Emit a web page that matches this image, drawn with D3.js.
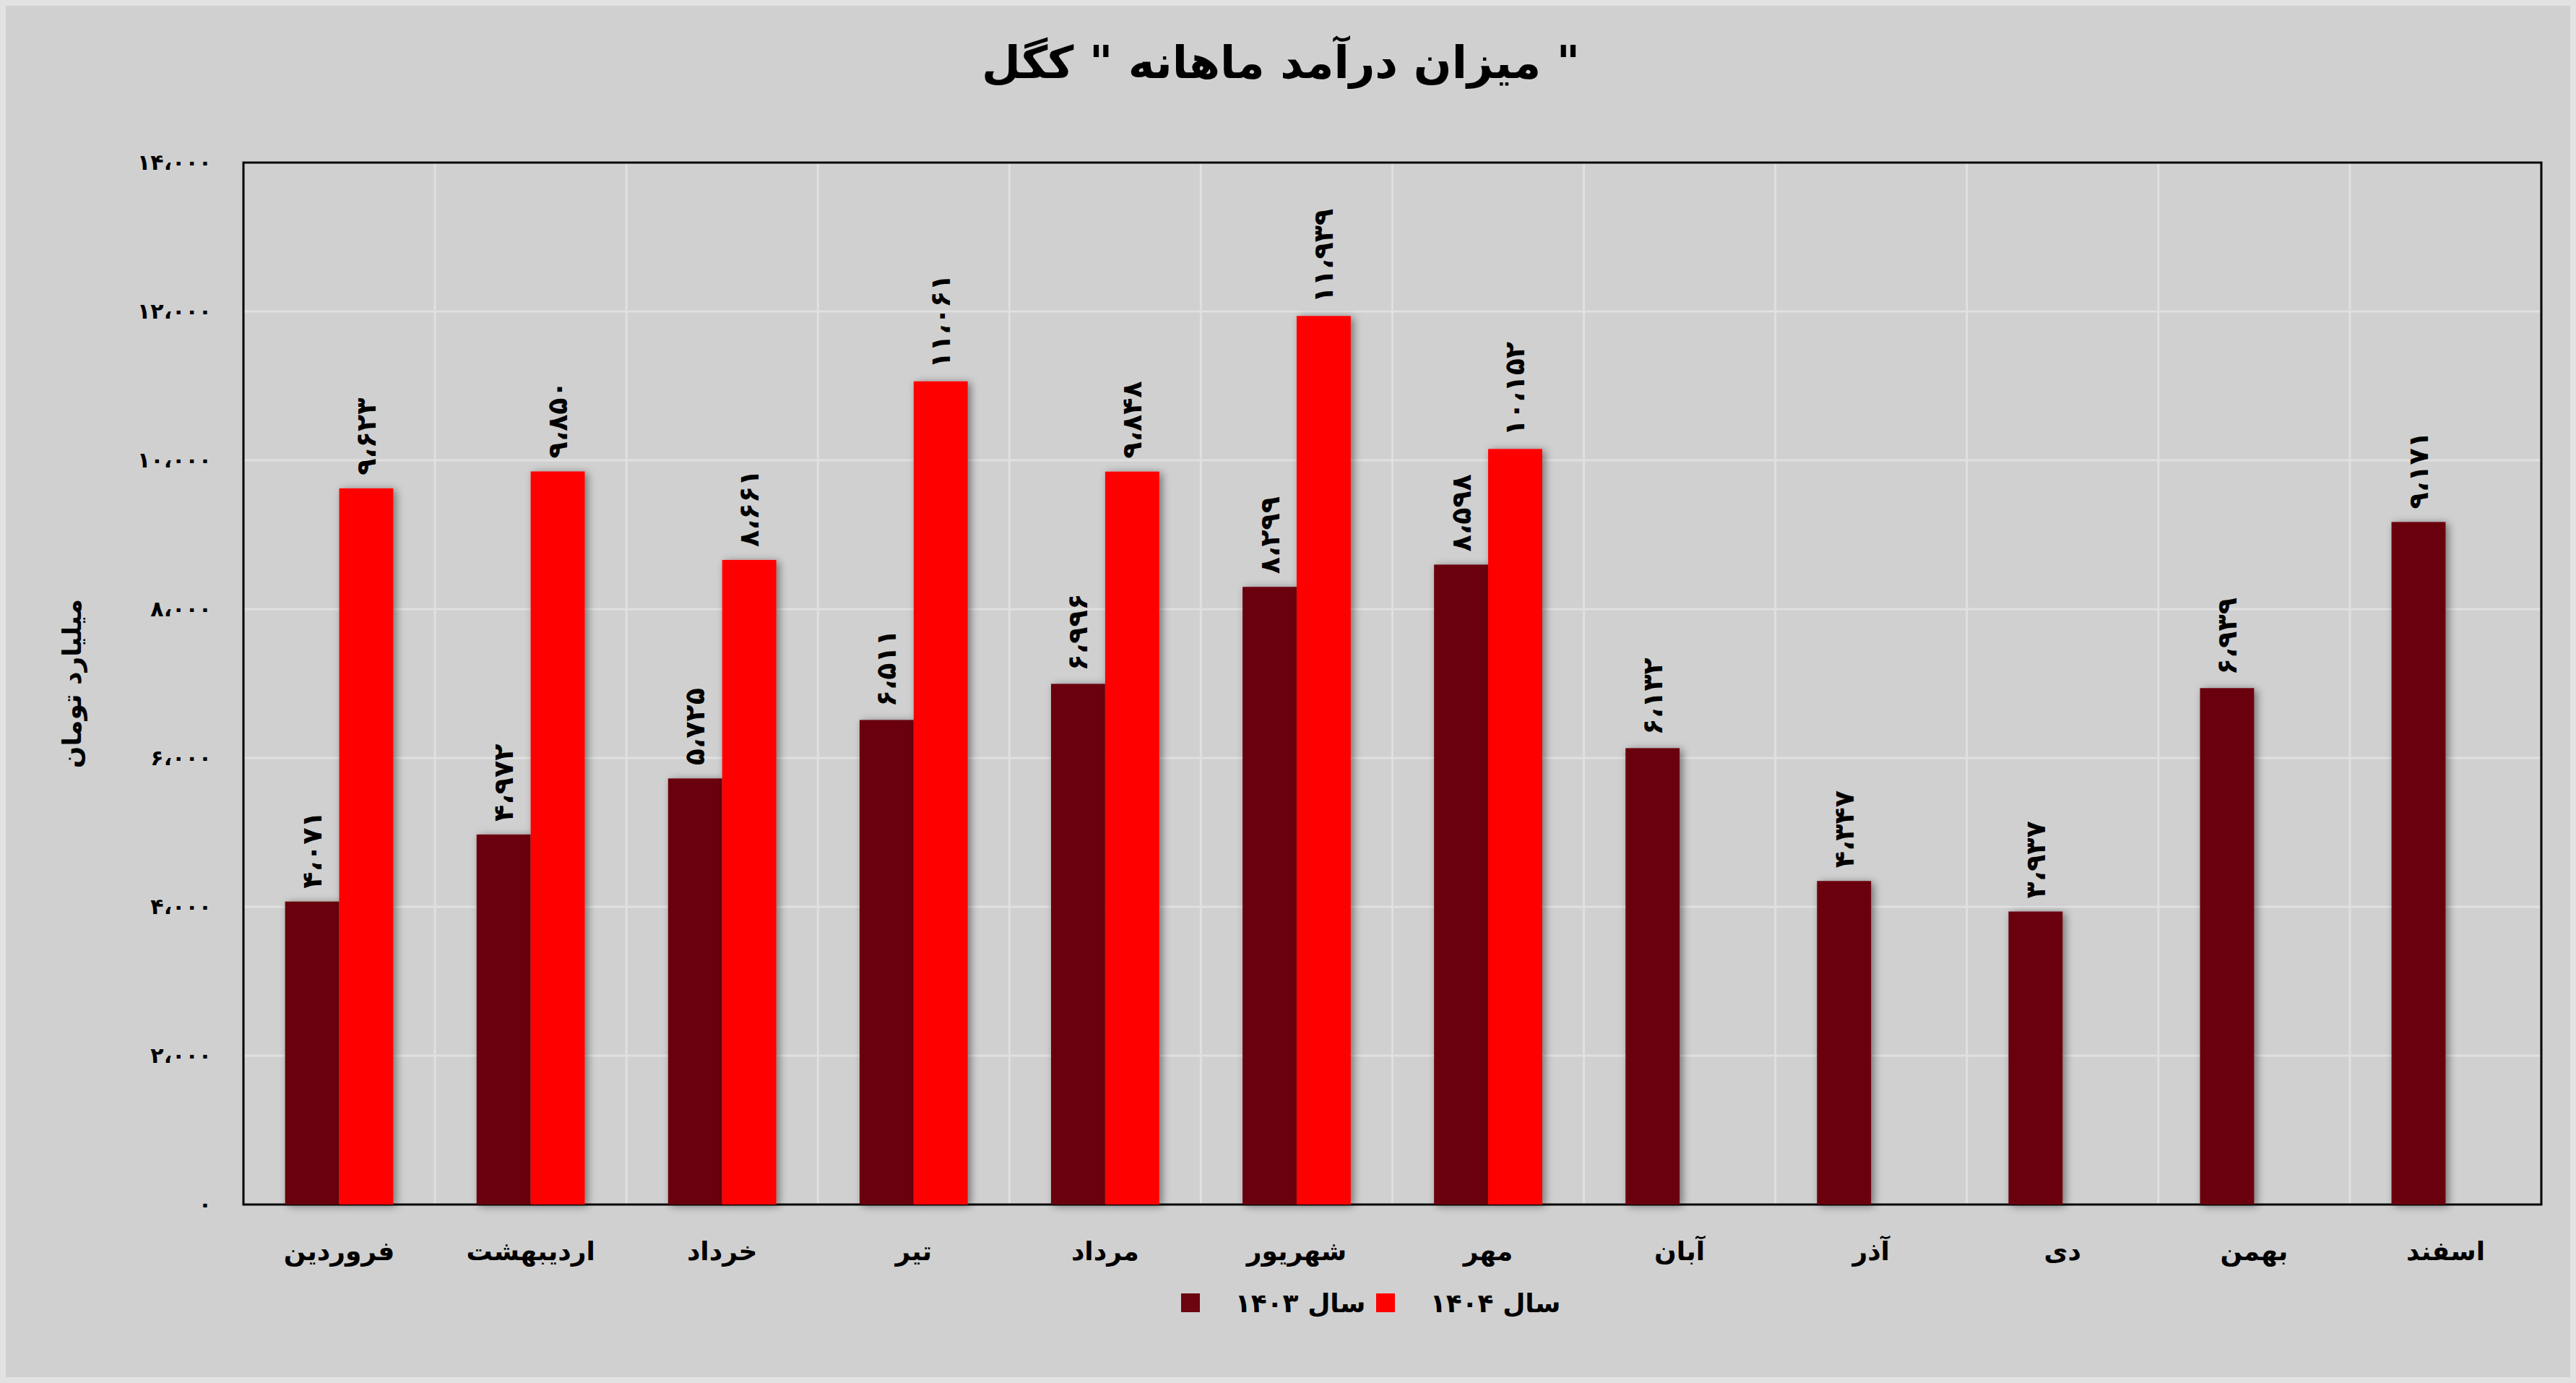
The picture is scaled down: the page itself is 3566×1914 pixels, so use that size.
<!DOCTYPE html>
<html><head><meta charset="utf-8">
<script src="https://cdn.jsdelivr.net/npm/d3@7"></script>
<style>
body{margin:0;background:#d0d0d0;}
text{font-family:"DejaVu Sans","Noto Sans",sans-serif;font-weight:bold;fill:#000;}
</style></head>
<body>
<svg id="chart" width="3566" height="1914"></svg>
<script>
// months and series values (billion toman)
const months = ["فروردین","اردیبهشت","خرداد","تیر","مرداد","شهریور","مهر","آبان","آذر","دی","بهمن","اسفند"];
const y1403 = [4071,4972,5725,6511,6996,8299,8598,6132,4347,3937,6939,9171];
const y1404 = [9623,9850,8661,11061,9848,11939,10152,null,null,null,null,null];
const yTicks = [0,2000,4000,6000,8000,10000,12000,14000];
const seriesNames = ["سال ۱۴۰۳","سال ۱۴۰۴"];
const colors = ["#6b0610","#ff0000"];

const W = 3566, H = 1914;
const m = {left:337, right:48, top:225, bottom:247};
const svg = d3.select("#chart");

svg.append("rect").attr("x",4).attr("y",4).attr("width",W-8).attr("height",H-8)
  .attr("fill","#d0d0d0").attr("stroke","#e2e2e2").attr("stroke-width",8);

const defs = svg.append("defs");
const f = defs.append("filter").attr("id","sh").attr("x","-30%").attr("y","-10%").attr("width","160%").attr("height","120%");
f.append("feDropShadow").attr("dx",4).attr("dy",2).attr("stdDeviation",6).attr("flood-color","#000").attr("flood-opacity",0.45);

// persian digits with arabic comma
function fa(n){
  const s = d3.format(",")(n).replace(/,/g,"،");
  return s.replace(/\d/g, d => "۰۱۲۳۴۵۶۷۸۹"[+d]);
}

const x = d3.scaleBand().domain(months).range([m.left, W-m.right]).paddingInner(0.435).paddingOuter(0.2175);
const xs = d3.scaleBand().domain([0,1]).range([0, x.bandwidth()]);
const y = d3.scaleLinear().domain([0,14000]).range([H-m.bottom, m.top]);

// grid
svg.append("g").selectAll("line").data(yTicks.slice(1)).join("line")
  .attr("x1",m.left).attr("x2",W-m.right).attr("y1",d=>y(d)).attr("y2",d=>y(d))
  .attr("stroke","#e0e0e0").attr("stroke-width",3);
svg.append("g").selectAll("line").data(months.slice(1)).join("line")
  .attr("x1",d=>x(d)-x.step()*x.paddingInner()/2).attr("x2",d=>x(d)-x.step()*x.paddingInner()/2)
  .attr("y1",m.top).attr("y2",H-m.bottom).attr("stroke","#e0e0e0").attr("stroke-width",3);

// frame
svg.append("rect").attr("x",m.left).attr("y",m.top).attr("width",W-m.left-m.right).attr("height",H-m.top-m.bottom)
  .attr("fill","none").attr("stroke","#000").attr("stroke-width",3);

// y axis
const ya = svg.append("g").attr("transform",`translate(${m.left},0)`)
  .call(d3.axisLeft(y).tickValues(yTicks).tickSize(0).tickPadding(44).tickFormat(fa));
ya.select(".domain").remove();
ya.selectAll("text").style("font-size","30px").style("font-family","DejaVu Sans");

// x axis labels
svg.append("g").selectAll("text").data(months).join("text")
  .attr("x",d=>x(d)+x.bandwidth()/2).attr("y",H-m.bottom+77)
  .attr("text-anchor","middle").style("font-size","36px").text(d=>d);

// bars
const series = [y1403,y1404];
series.forEach((vals,si)=>{
  const g = svg.append("g");
  const data = months.map((mo,i)=>({mo,v:vals[i]})).filter(d=>d.v!=null);
  g.selectAll("rect").data(data).join("rect")
    .attr("x",d=>x(d.mo)+xs(si)).attr("width",xs.bandwidth())
    .attr("y",d=>y(d.v)).attr("height",d=>y(0)-y(d.v))
    .attr("fill",colors[si]).attr("filter","url(#sh)");
  g.selectAll("text").data(data).join("text")
    .attr("transform",d=>`translate(${x(d.mo)+xs(si)+xs.bandwidth()/2+13},${y(d.v)-18}) rotate(-90)`)
    .attr("text-anchor","start").style("font-size","38px").text(d=>fa(d.v));
});

// title
svg.append("text").attr("x",1160*W/1568+0).attr("y",108).attr("text-anchor","middle")
  .attr("x",W/2-10).style("font-size","62px").text('میزان درآمد ماهانه " کگل "');

// y label
svg.append("text").attr("transform",`translate(112,${(m.top+H-m.bottom)/2}) rotate(-90)`)
  .attr("text-anchor","middle").style("font-size","36px").text("میلیارد تومان");

// legend
const lg = svg.append("g");
const lx = [1695,1965];
seriesNames.forEach((n,i)=>{
  lg.append("rect").attr("x",lx[i]-60).attr("y",1790).attr("width",26).attr("height",26).attr("fill",colors[i]);
  lg.append("text").attr("x",lx[i]+105).attr("y",1816).attr("text-anchor","middle").style("font-size","36px").text(n);
});
</script>
</body></html>
